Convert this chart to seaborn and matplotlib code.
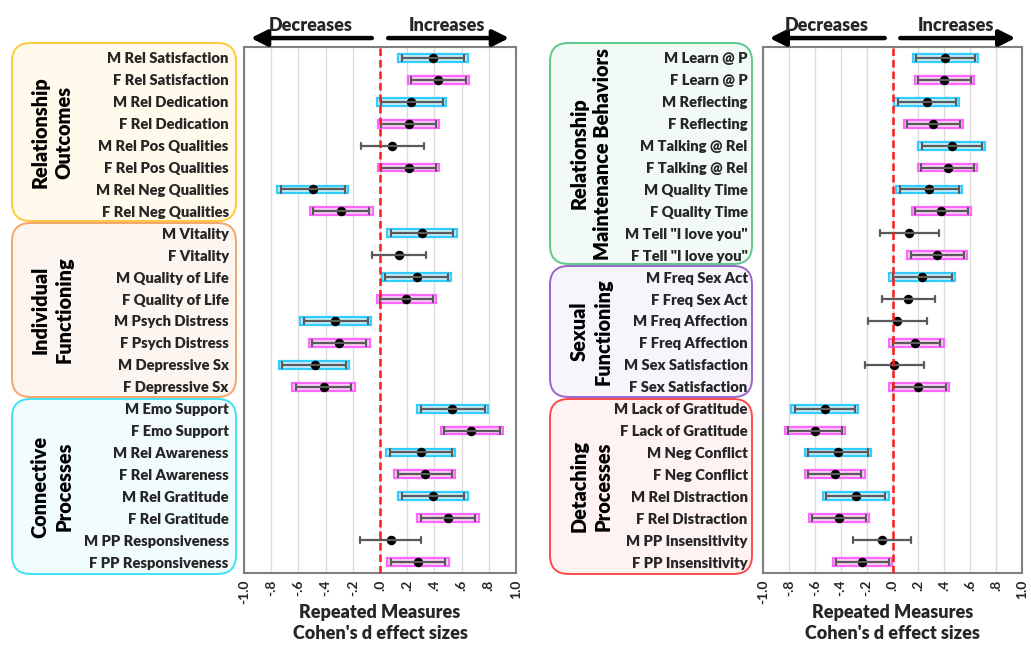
import numpy as np
import pandas as pd
import matplotlib
matplotlib.use("Agg")
import matplotlib.pyplot as plt
import seaborn as sns
from matplotlib.patches import FancyBboxPatch

# ---------------- data ----------------
left_labels = ["M Rel Satisfaction", "F Rel Satisfaction", "M Rel Dedication", "F Rel Dedication",
               "M Rel Pos Qualities", "F Rel Pos Qualities", "M Rel Neg Qualities", "F Rel Neg Qualities",
               "M Vitality", "F Vitality", "M Quality of Life", "F Quality of Life",
               "M Psych Distress", "F Psych Distress", "M Depressive Sx", "F Depressive Sx",
               "M Emo Support", "F Emo Support", "M Rel Awareness", "F Rel Awareness",
               "M Rel Gratitude", "F Rel Gratitude", "M PP Responsiveness", "F PP Responsiveness"]
left_d = [0.39, 0.43, 0.23, 0.21, 0.09, 0.21, -0.49, -0.29,
          0.31, 0.14, 0.27, 0.19, -0.33, -0.30, -0.48, -0.41,
          0.53, 0.67, 0.30, 0.33, 0.39, 0.50, 0.08, 0.28]
left_lo = [0.16, 0.23, 0.005, 0.01, -0.14, 0.01, -0.73, -0.49,
           0.08, -0.06, 0.04, 0.00, -0.56, -0.50, -0.72, -0.62,
           0.30, 0.47, 0.07, 0.13, 0.16, 0.30, -0.15, 0.08]
left_hi = [0.62, 0.63, 0.46, 0.41, 0.32, 0.41, -0.26, -0.08,
           0.54, 0.34, 0.50, 0.39, -0.09, -0.10, -0.25, -0.21,
           0.77, 0.88, 0.53, 0.53, 0.62, 0.70, 0.30, 0.48]
left_sig = [1, 1, 1, 1, 0, 1, 1, 1,
            1, 0, 1, 1, 1, 1, 1, 1,
            1, 1, 1, 1, 1, 1, 0, 1]

right_labels = ["M Learn @ P", "F Learn @ P", "M Reflecting", "F Reflecting",
                "M Talking @ Rel", "F Talking @ Rel", "M Quality Time", "F Quality Time",
                "M Tell \"I love you\"", "F Tell \"I love you\"",
                "M Freq Sex Act", "F Freq Sex Act", "M Freq Affection", "F Freq Affection",
                "M Sex Satisfaction", "F Sex Satisfaction",
                "M Lack of Gratitude", "F Lack of Gratitude", "M Neg Conflict", "F Neg Conflict",
                "M Rel Distraction", "F Rel Distraction", "M PP Insensitivity", "F PP Insensitivity"]
right_d = [0.405, 0.40, 0.265, 0.315, 0.46, 0.425, 0.285, 0.375,
           0.13, 0.34, 0.23, 0.12, 0.035, 0.175, 0.01, 0.20,
           -0.52, -0.60, -0.42, -0.445, -0.285, -0.41, -0.08, -0.235]
right_lo = [0.18, 0.195, 0.04, 0.115, 0.225, 0.22, 0.055, 0.175,
            -0.095, 0.14, 0.00, -0.08, -0.19, 0.00, -0.215, 0.00,
            -0.755, -0.805, -0.65, -0.65, -0.51, -0.62, -0.305, -0.435]
right_hi = [0.635, 0.605, 0.49, 0.52, 0.69, 0.63, 0.515, 0.58,
            0.36, 0.55, 0.46, 0.33, 0.27, 0.37, 0.24, 0.41,
            -0.29, -0.39, -0.19, -0.24, -0.055, -0.205, 0.145, -0.03]
right_sig = [1, 1, 1, 1, 1, 1, 1, 1,
             0, 1, 1, 0, 0, 1, 0, 1,
             1, 1, 1, 1, 1, 1, 0, 1]

x_ticks = [-1.0, -0.8, -0.6, -0.4, -0.2, 0.0, 0.2, 0.4, 0.6, 0.8, 1.0]
x_ticklabels = ["-1.0", "-.8", "-.6", "-.4", "-.2", ".0", ".2", ".4", ".6", ".8", "1.0"]

left_groups = ["Relationship\nOutcomes", "Individual\nFunctioning", "Connective\nProcesses"]
right_groups = ["Relationship\nMaintenance Behaviors", "Sexual\nFunctioning", "Detaching\nProcesses"]

# ---------------- style ----------------
sns.set_theme(style="white")
plt.rcParams["font.family"] = ["Lato", "DejaVu Sans"]
plt.rcParams["font.weight"] = "bold"

CYAN_FILL, CYAN_EDGE = "#C9EEF9", "#33CCFF"
PINK_FILL, PINK_EDGE = "#F9D4F4", "#FF66FF"

W, H = 1031, 646
fig = plt.figure(figsize=(W / 100, H / 100), dpi=100)


def fx(px):
    return px / W


def fy(py):
    return 1 - py / H


axL = fig.add_axes([fx(244), fy(573), fx(516) - fx(244), fy(47) - fy(573)])
axR = fig.add_axes([fx(763), fy(573), fx(1022) - fx(763), fy(47) - fy(573)])
for a in (axL, axR):
    a.set_zorder(2)

# group boxes (layout, in pixels)
boxes = [
    (12, 43, 236, 221, "#FFC83D", "#FFFAEC", left_groups[0], 52),
    (12, 223, 236, 397, "#F4A56A", "#FDF5EF", left_groups[1], 52),
    (12, 399, 236, 574, "#3FE3F2", "#F1FCFE", left_groups[2], 52),
    (550, 43, 752, 264, "#5CC98A", "#F2FAF5", right_groups[0], 591),
    (550, 266, 752, 397, "#9966CC", "#F8F4FB", right_groups[1], 591),
    (550, 399, 752, 574, "#FF4A4A", "#FEF2F2", right_groups[2], 591),
]
for x0, y0, x1, y1, ec, fc, txt, tx in boxes:
    p = FancyBboxPatch((fx(x0), fy(y1)), fx(x1) - fx(x0), fy(y0) - fy(y1),
                       boxstyle="round,pad=0,rounding_size=0.018",
                       transform=fig.transFigure, facecolor=fc, edgecolor=ec,
                       linewidth=1.4, zorder=-1, mutation_aspect=W / H)
    fig.patches.append(p)
    fig.text(fx(tx), fy((y0 + y1) / 2), txt, rotation=90, ha="center", va="center",
             fontsize=14.3, fontweight="heavy", multialignment="center", linespacing=1.3,
             color="black", zorder=1)


def panel(ax, labels, d, lo, hi, sig):
    n = len(labels)
    df = pd.DataFrame({
        "label": np.repeat(labels, 3),
        "value": np.column_stack([lo, d, hi]).ravel(),
    })
    sns.pointplot(data=df, x="value", y="label", order=labels, estimator=np.median,
                  errorbar=("pi", 100), linestyle="none", color="black", markers="o",
                  markersize=4.8, capsize=0.28,
                  err_kws={"color": "#5A5A5A", "linewidth": 1.6}, ax=ax, zorder=4)
    pad = 0.025
    for i in range(n):
        if sig[i]:
            male = labels[i].startswith("M")
            ax.barh(i, hi[i] - lo[i] + 2 * pad, left=lo[i] - pad, height=0.36,
                    color=CYAN_FILL if male else PINK_FILL,
                    edgecolor=CYAN_EDGE if male else PINK_EDGE,
                    linewidth=1.6, zorder=2)
    ax.set_ylim(n - 0.5, -0.5)
    ax.set_xlim(-1.0, 1.0)
    ax.axvline(0, color="#FF1A1A", linestyle=(0, (3, 1.6)), linewidth=1.8, zorder=5)
    ax.set_xticks(x_ticks)
    ax.set_xticklabels(x_ticklabels, rotation=90, fontsize=10, fontweight="bold")
    ax.set_yticks(range(n))
    ax.set_yticklabels(labels, fontsize=10.6, fontweight="heavy")
    ax.tick_params(axis="both", length=0)
    ax.tick_params(axis="y", pad=11)
    ax.tick_params(axis="x", pad=5)
    ax.grid(axis="x", color="#DCDCDC", linewidth=1.0)
    ax.grid(axis="y", visible=False)
    ax.set_axisbelow(True)
    for s in ax.spines.values():
        s.set_color("#808080")
        s.set_linewidth(1.5)
    ax.set_ylabel("")
    ax.set_xlabel("Repeated Measures\nCohen's d effect sizes", fontsize=13,
                  fontweight="heavy", labelpad=0, linespacing=1.25)
    tr = ax.get_xaxis_transform()
    ax.annotate("", xy=(-0.95, 1.017), xytext=(-0.06, 1.017), xycoords=tr, textcoords=tr,
                arrowprops=dict(arrowstyle="-|>,head_length=0.6,head_width=0.3", lw=3.2,
                                color="black", mutation_scale=16, shrinkA=0, shrinkB=0),
                annotation_clip=False)
    ax.annotate("", xy=(0.95, 1.017), xytext=(0.06, 1.017), xycoords=tr, textcoords=tr,
                arrowprops=dict(arrowstyle="-|>,head_length=0.6,head_width=0.3", lw=3.2,
                                color="black", mutation_scale=16, shrinkA=0, shrinkB=0),
                annotation_clip=False)
    ax.text(-0.51, 1.04, "Decreases", transform=tr, ha="center", va="center",
            fontsize=13, fontweight="heavy")
    ax.text(0.49, 1.04, "Increases", transform=tr, ha="center", va="center",
            fontsize=13, fontweight="heavy")


panel(axL, left_labels, left_d, left_lo, left_hi, left_sig)
panel(axR, right_labels, right_d, right_lo, right_hi, right_sig)

fig.savefig("out.png", dpi=100)
